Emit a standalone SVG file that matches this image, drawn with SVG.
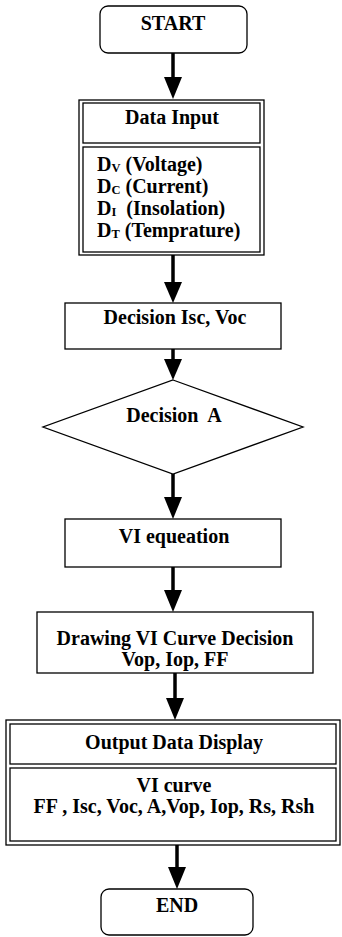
<svg xmlns="http://www.w3.org/2000/svg" width="342" height="937" viewBox="0 0 342 937">
<style>
  .box { fill: #fff; stroke: #000; stroke-width: 1.3; }
  .t { font-family: "Liberation Serif", "Times New Roman", serif; font-weight: bold; font-size: 20px; fill: #000; text-anchor: middle; }
  .tl { font-family: "Liberation Serif", "Times New Roman", serif; font-weight: bold; font-size: 20px; fill: #000; }
  .sub { font-size: 12.5px; }
  .conn { stroke: #000; stroke-width: 3.5; fill: none; }
  .head { fill: #000; stroke: none; }
</style>
<rect width="342" height="937" fill="#fff"/>

<g id="connectors">
  <line class="conn" x1="173" y1="53" x2="173" y2="82"/>
  <polygon class="head" points="164,77 182,77 173,99"/>
  <line class="conn" x1="173" y1="255" x2="173" y2="286"/>
  <polygon class="head" points="164,282 182,282 173,303"/>
  <line class="conn" x1="173" y1="349" x2="173" y2="364"/>
  <polygon class="head" points="164,359 182,359 173,380"/>
  <line class="conn" x1="173" y1="474" x2="173" y2="502"/>
  <polygon class="head" points="164,497 182,497 173,519"/>
  <line class="conn" x1="173" y1="567" x2="173" y2="595"/>
  <polygon class="head" points="164,590 182,590 173,612"/>
  <line class="conn" x1="175" y1="673" x2="175" y2="703"/>
  <polygon class="head" points="166,698 184,698 175,720"/>
  <line class="conn" x1="177" y1="845" x2="177" y2="872"/>
  <polygon class="head" points="168,867 186,867 177,889"/>
</g>

<g id="start">
  <rect class="box" x="100" y="6" width="147" height="47" rx="8"/>
  <text class="t" x="173" y="30">START</text>
</g>

<g id="data-input">
  <rect class="box" x="79" y="100" width="185" height="155"/>
  <rect class="box" x="83" y="103" width="177" height="40"/>
  <rect class="box" x="83" y="147" width="177" height="105"/>
  <text class="t" x="172" y="124">Data Input</text>
  <text class="tl" x="97" y="171">D<tspan class="sub" dy="1">V</tspan><tspan dy="-1"> (Voltage)</tspan></text>
  <text class="tl" x="97" y="193">D<tspan class="sub" dy="1">C</tspan><tspan dy="-1"> (Current)</tspan></text>
  <text class="tl" x="97" y="215" xml:space="preserve">D<tspan class="sub" dy="1">I</tspan><tspan dy="-1">  (Insolation)</tspan></text>
  <text class="tl" x="97" y="237">D<tspan class="sub" dy="1">T</tspan><tspan dy="-1"> (Temprature)</tspan></text>
</g>

<g id="decision-isc-voc">
  <rect class="box" x="65" y="303" width="216" height="46"/>
  <text class="t" x="175" y="324">Decision Isc, Voc</text>
</g>

<g id="decision-a">
  <polygon class="box" points="173,380 303,427 173,474 43,427"/>
  <text class="t" x="174" y="422" xml:space="preserve">Decision  A</text>
</g>

<g id="vi-equation">
  <rect class="box" x="65" y="519" width="216" height="48"/>
  <text class="t" x="174" y="543">VI equeation</text>
</g>

<g id="drawing">
  <rect class="box" x="37" y="612" width="276" height="61"/>
  <text class="t" x="175" y="645">Drawing VI Curve Decision</text>
  <text class="t" x="175" y="666">Vop, Iop, FF</text>
</g>

<g id="output">
  <rect class="box" x="6" y="720" width="334" height="125"/>
  <rect class="box" x="10" y="724" width="326" height="40"/>
  <rect class="box" x="10" y="768" width="326" height="73"/>
  <text class="t" x="174" y="749">Output Data Display</text>
  <text class="t" x="174" y="792">VI curve</text>
  <text class="t" x="174" y="813">FF , Isc, Voc, A,Vop, Iop, Rs, Rsh</text>
</g>

<g id="end">
  <rect class="box" x="101" y="889" width="152" height="46" rx="8"/>
  <text class="t" x="177" y="912">END</text>
</g>
</svg>
